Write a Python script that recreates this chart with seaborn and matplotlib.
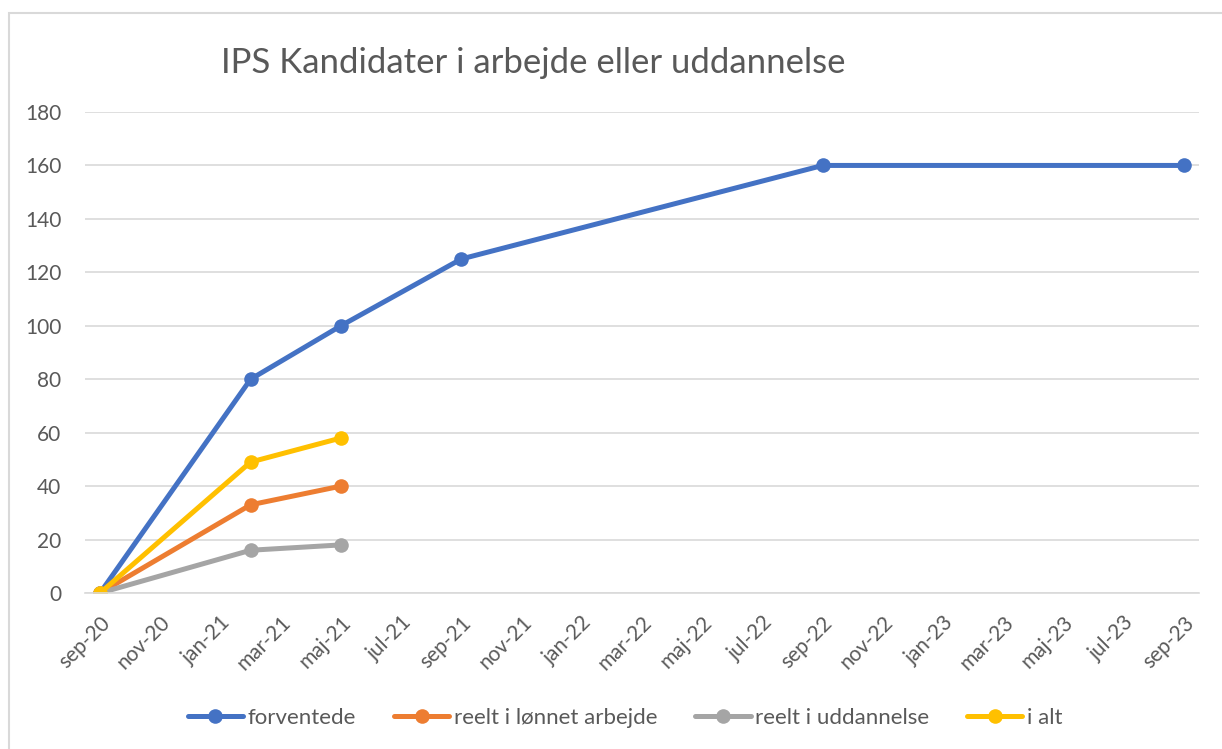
import pandas as pd
import matplotlib.pyplot as plt
import matplotlib.patches as mpatches
import matplotlib.transforms as mtrans
import seaborn as sns

# data
maaneder = ['2020-09', '2021-02', '2021-05', '2021-09', '2022-09', '2023-09']
forventede = [0, 80, 100, 125, 160, 160]
reelt_arbejde = [0, 33, 40]
reelt_uddannelse = [0, 16, 18]
i_alt = [0, 49, 58]

serier = ['forventede', 'reelt i lønnet arbejde', 'reelt i uddannelse', 'i alt']
farver = ['#4472c4', '#ed7d31', '#a5a5a5', '#ffc000']
maaned_navne = ['jan', 'feb', 'mar', 'apr', 'maj', 'jun', 'jul', 'aug', 'sep', 'okt', 'nov', 'dec']

sns.set_theme(style='white')
plt.rcParams['font.family'] = ['Lato', 'DejaVu Sans']
tekst = '#595959'

# month index from sep-20, points in the middle of the month (excel date axis)
start = pd.Period('2020-09', freq='M')
def mi(m):
    return (pd.Period(m, freq='M') - start).n + 0.5

rows = []
for navn, vals in zip(serier, [forventede, reelt_arbejde, reelt_uddannelse, i_alt]):
    for m, v in zip(maaneder, vals):
        rows.append({'x': mi(m), 'y': v, 'serie': navn})
df = pd.DataFrame(rows)

fig = plt.figure(figsize=(12.22, 7.49), dpi=100)
ax = fig.add_axes([85/1222, 1-593/749, (1199-85)/1222, (593-112)/749])

for navn, c in zip(serier, farver):
    sub = df[df['serie'] == navn]
    sns.lineplot(data=sub, x='x', y='y', ax=ax, color=c, linewidth=3.6,
                 marker='o', markersize=10.5, markeredgewidth=0,
                 label=navn, legend=False)

ax.set_xlim(0, 37)
ax.set_ylim(0, 180)
ax.set_yticks(range(0, 181, 20))
ax.yaxis.grid(True, color='#d9d9d9', linewidth=1.2)
ax.set_axisbelow(True)
for s in ['top', 'right', 'left']:
    ax.spines[s].set_visible(False)
ax.spines['bottom'].set_color('#d9d9d9')
ax.spines['bottom'].set_linewidth(1.2)

tick_pos = list(range(0, 37, 2))
tick_lab = []
for p in tick_pos:
    per = start + p
    tick_lab.append(f"{maaned_navne[per.month-1]}-{str(per.year)[2:]}")
ax.set_xticks(tick_pos)
ax.set_xticklabels(tick_lab, rotation=45, ha='right', rotation_mode='anchor')
ax.tick_params(axis='x', colors='#d9d9d9', length=6, width=1.2, labelcolor=tekst,
               labelsize=15, pad=8)
ax.tick_params(axis='y', length=0, labelcolor=tekst, labelsize=15, pad=17)
for lab in ax.get_xticklabels():
    lab.set_transform(lab.get_transform() + mtrans.ScaledTranslation(0.15, 0, fig.dpi_scale_trans))
ax.set_xlabel('')
ax.set_ylabel('')

fig.text(533/1222, 1-63/749, 'IPS Kandidater i arbejde eller uddannelse',
         ha='center', va='center', fontsize=25, color=tekst)

handles, labels = ax.get_legend_handles_labels()
fig.legend(handles, labels, loc='center', bbox_to_anchor=(625/1222, 1-718/749), ncol=4,
           frameon=False, fontsize=16, labelcolor=tekst, handlelength=2.5,
           handletextpad=0.2, columnspacing=1.7)

fig.patches.append(mpatches.Rectangle((9/1222, -0.05), 1.2, 1-13/749+0.05,
                   transform=fig.transFigure, fill=False, edgecolor='#d9d9d9', linewidth=1.5))

fig.savefig('out.png', dpi=100)
